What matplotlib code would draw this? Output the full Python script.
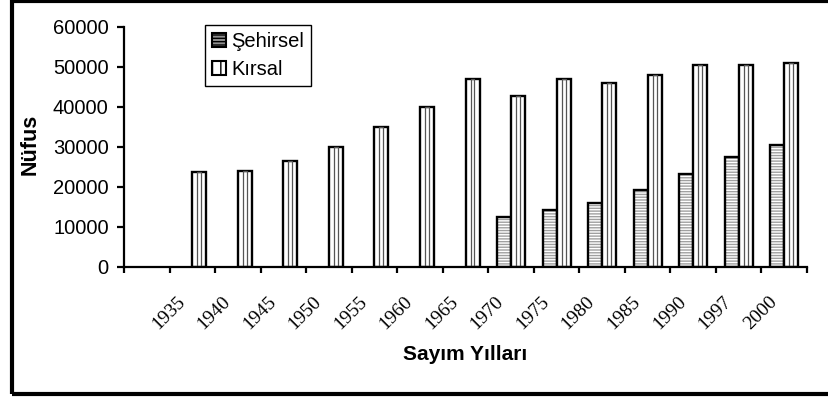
import numpy as np
import matplotlib.pyplot as plt
from matplotlib.patches import Rectangle, Patch
from matplotlib.transforms import ScaledTranslation

# Sayım yılları ve nüfus (okunan değerler)
years = ["1935", "1940", "1945", "1950", "1955", "1960", "1965",
         "1970", "1975", "1980", "1985", "1990", "1997", "2000"]
sehirsel = [None, None, None, None, None, None, None,
            12300, 14200, 16000, 19200, 23100, 27500, 30500]
kirsal = [23600, 24000, 26500, 30000, 34900, 40000, 46800,
          42600, 46800, 45800, 47900, 50400, 50500, 50900]

plt.rcParams['font.family'] = ['Liberation Sans', 'DejaVu Sans']
plt.rcParams['hatch.linewidth'] = 1.0

fig = plt.figure(figsize=(8.29, 4), dpi=100)
ax = fig.add_axes([0.1496, 0.3333, 0.8239, 0.6])

x = np.arange(1, len(years) + 1)
w = 0.307

# şehirsel: gri, yatay çizgili
xs = np.array([xi for xi, v in zip(x, sehirsel) if v is not None])
vs = [v for v in sehirsel if v is not None]
ax.bar(xs - w / 2, vs, w, color='#a0a0a0', edgecolor='white', hatch='------', lw=0)
ax.bar(xs - w / 2, vs, w, fill=False, edgecolor='black', lw=1.7)

# kırsal: beyaz, ortada dikey çizgi
ax.bar(x + w / 2, kirsal, w, facecolor='white', edgecolor='black', lw=1.7)
ax.bar(x + w / 2, kirsal, w * 0.28, fill=False, edgecolor='#555555', lw=0.9)

ax.set_xlim(-0.5, len(years) + 0.5)
ax.set_ylim(0, 60000)
ax.set_yticks(np.arange(0, 60001, 10000))
ax.spines['top'].set_visible(False)
ax.spines['right'].set_visible(False)
for s in ['left', 'bottom']:
    ax.spines[s].set_linewidth(1.6)

ax.tick_params(axis='y', labelsize=14.5, width=1.6, length=5, pad=6)
ax.set_xticks(np.arange(-0.5, len(years) + 1, 1))
ax.set_xticklabels([])
ax.tick_params(axis='x', which='major', width=1.6, length=4.5)
ax.set_xticks(x, years, minor=True)
ax.tick_params(axis='x', which='minor', length=0, pad=19, labelsize=14,
               labelrotation=45, labelfontfamily='Liberation Serif')
off = ScaledTranslation(-0.16, 0, fig.dpi_scale_trans)
for lab in ax.get_xticklabels(minor=True):
    lab.set_ha('right')
    lab.set_va('top')
    lab.set_rotation_mode('anchor')
    lab.set_transform(lab.get_transform() + off)

ax.set_xlabel("Sayım Yılları", fontsize=15, fontweight='bold', va='center')
ax.xaxis.set_label_coords(0.5, -0.367)
ax.set_ylabel("Nüfus", fontsize=15.5, fontweight='bold', va='center')
ax.yaxis.set_label_coords(-0.138, 0.51)

handles = [Patch(facecolor='#909090', edgecolor='black', hatch='-----', lw=1.5),
           Patch(facecolor='white', edgecolor='black', hatch='||', lw=1.5)]
leg = ax.legend(handles, ["Şehirsel", "Kırsal"], loc='upper left',
                bbox_to_anchor=(0.247, 0.9375), bbox_transform=fig.transFigure,
                fontsize=14.5, fancybox=False, frameon=True, edgecolor='black',
                framealpha=1, borderaxespad=0, handlelength=0.7, handleheight=0.7,
                handletextpad=0.25, labelspacing=0.45, borderpad=0.35)
leg.get_frame().set_linewidth(1.0)

fig.patches.append(Rectangle((0.0145, 0.015), 1.1, 0.9825, transform=fig.transFigure,
                             fill=False, edgecolor='black', lw=3, clip_on=False))

plt.savefig("out.png", dpi=100)
